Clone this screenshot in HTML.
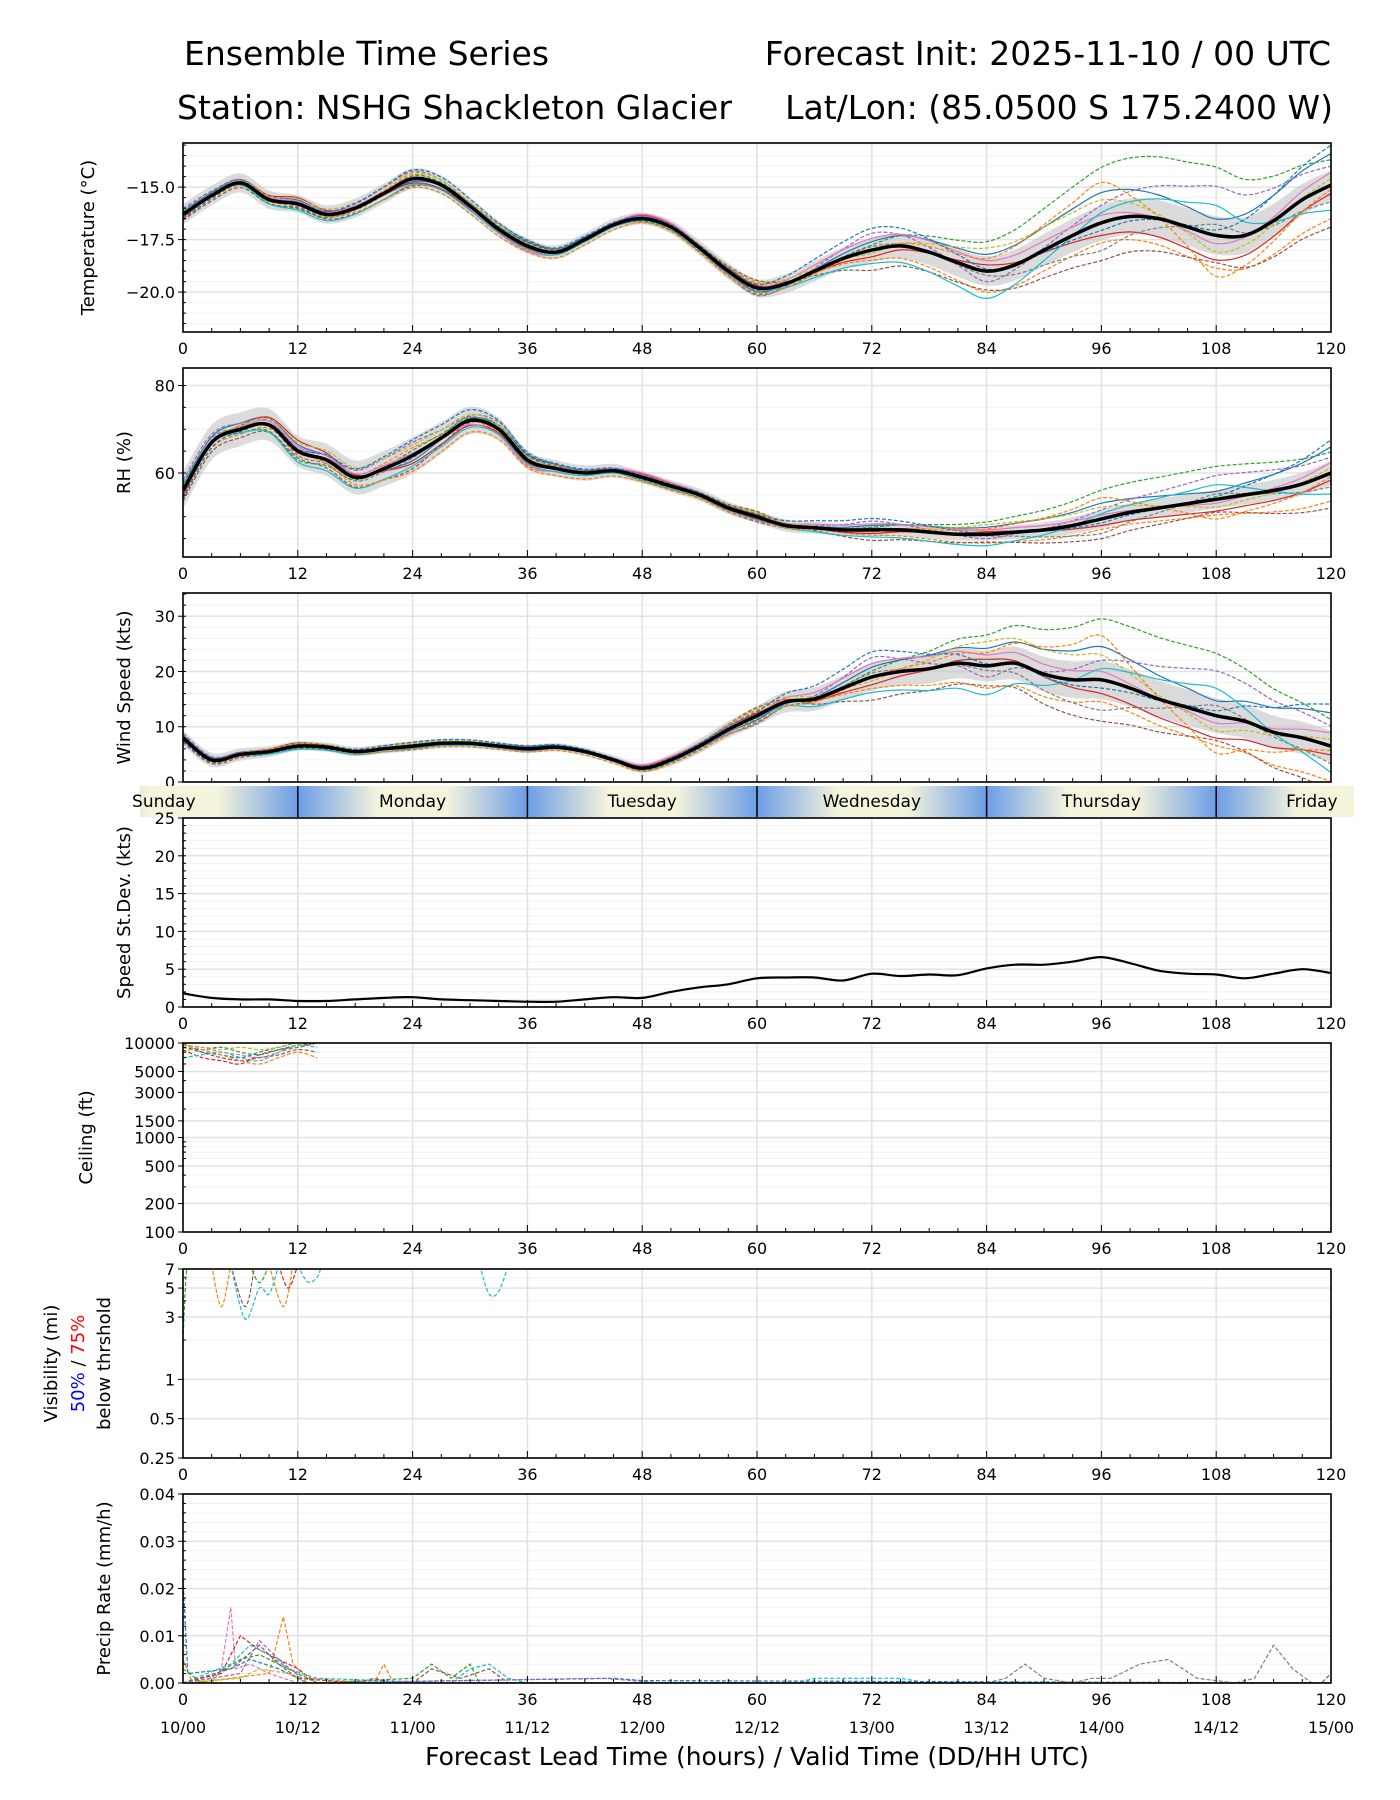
<!DOCTYPE html>
<html><head><meta charset="utf-8"><style>
html,body{margin:0;padding:0;background:#fff;}
svg{display:block;font-family:"DejaVu Sans","Liberation Sans",sans-serif;}
</style></head><body>
<svg id="chart" width="1400" height="1800" viewBox="0 0 1400 1800" xmlns="http://www.w3.org/2000/svg">
<text x="184" y="65" font-size="33">Ensemble Time Series</text>
<text x="1331" y="65" font-size="33" text-anchor="end">Forecast Init: 2025-11-10 / 00 UTC</text>
<text x="177" y="119" font-size="33">Station: NSHG Shackleton Glacier</text>
<text x="1333" y="119" font-size="33" text-anchor="end">Lat/Lon: (85.0500 S 175.2400 W)</text>
<text x="757" y="1765" font-size="25" text-anchor="middle">Forecast Lead Time (hours) / Valid Time (DD/HH UTC)</text>
</svg>
<script>
// ---- data ----
const hours3 = [0,3,6,9,12,15,18,21,24,27,30,33,36,39,42,45,48,51,54,57,60,63,66,69,72,75,78,81,84,87,90,93,96,99,102,105,108,111,114,117,120];
const tempMean = [-16.3,-15.4,-14.8,-15.6,-15.8,-16.3,-16.0,-15.3,-14.6,-14.9,-15.9,-17.0,-17.8,-18.1,-17.5,-16.8,-16.5,-16.9,-17.9,-19.0,-19.8,-19.6,-19.0,-18.4,-18.0,-17.8,-18.1,-18.6,-19.0,-18.7,-18.0,-17.3,-16.7,-16.4,-16.5,-16.9,-17.3,-17.3,-16.6,-15.6,-14.9];
const rhMean = [56,67,70,71,65,63,59,61,64,68,72,70,63,61,60,60.5,59,57,55,52,50,48,47.5,47,47,47,46.5,46,46,46.5,47,48,49.5,51,52,53,54,55,56,57.5,60];
const windMean = [8,4,5,5.5,6.5,6.3,5.5,6,6.5,7,7,6.5,6,6.3,5.5,4,2.5,4,6.5,9.5,12,14.5,15,17,19,20,20.5,21.5,21,21.5,19.5,18.5,18.5,17,15,13.5,12,11,9,8,6.5];
const sdMean = [1.8,1.2,1.0,1.0,0.8,0.8,1.0,1.2,1.3,1.0,0.9,0.8,0.7,0.7,1.0,1.3,1.2,2.0,2.6,3.0,3.8,3.9,3.9,3.5,4.4,4.1,4.3,4.2,5.1,5.6,5.6,6.0,6.6,5.8,4.8,4.4,4.3,3.8,4.4,5.0,4.5];
const hours12 = [0,12,24,36,48,60,72,84,96,108,120];
const tempSpread = [0.7,0.6,0.7,0.5,0.4,0.6,0.8,1.0,1.2,1.3,1.0];
const rhSpread = [6,5,6,3,2,2,2,2,3,3,4];
const windSpread = [2,1.2,1.2,1,1.2,2.5,3.5,4,5,4.5,4];
const memberDev = [
 [0.2,0.3,-0.2,0.4,0.1,-0.3,0.5,0.8,1.2,0.6,1.5],
 [-0.3,-0.1,0.3,-0.4,0.2,0.4,-0.6,-1.0,-0.8,-1.2,-1.6],
 [0.1,-0.4,0.2,0.1,-0.3,-0.5,0.3,1.4,2.2,2.5,1.2],
 [-0.2,0.5,-0.3,-0.2,0.4,0.2,-0.4,0.3,-0.5,-0.9,-0.4],
 [0.4,0.1,0.5,-0.1,0.3,-0.6,1.0,-0.5,0.7,1.8,0.9],
 [-0.4,-0.3,-0.5,0.3,-0.1,0.6,-1.2,-0.9,-1.5,-1.0,-2.0],
 [0.0,0.2,0.1,-0.5,0.5,0.1,0.7,0.5,0.3,-0.3,0.6],
 [0.3,-0.2,-0.1,0.6,-0.4,-0.2,0.2,-0.2,-1.1,0.4,-0.8],
 [-0.1,0.4,0.4,0.2,0.0,0.5,-0.2,1.1,0.9,-0.6,0.3],
 [0.2,-0.5,-0.4,-0.3,-0.2,-0.1,-0.8,-1.3,0.4,1.1,-1.2],
 [-0.3,0.1,0.6,0.5,0.2,0.3,1.3,0.1,-0.3,0.2,1.9],
 [0.1,0.0,-0.6,-0.6,-0.5,-0.4,0.0,0.6,1.6,-1.5,-0.2]
];
const ceilHours = [0,2,4,6,8,10,12,14];
const ceilMembers = [
 [9000,8000,7500,7000,8000,9000,10000,10000],[8500,7000,6500,6000,7500,8500,9500,10000],
 [9500,9000,8000,7500,7000,8000,9000,10000],[7000,7500,8000,7000,6500,8000,9500,9000],
 [9000,8500,9000,8000,7500,8500,9000,10000],[10000,8000,7000,6500,7000,7500,8500,8000],
 [8000,9000,8500,9000,8500,9000,10000,10000],[9500,8500,7500,6500,6000,7000,8000,7000]
];
const visMembers = [
 [[0,2],[0.4,7],[1,7.5]],
 [[3,7.5],[4,3.6],[5,7.5]],
 [[5,7.5],[6.5,3.6],[7.5,7.5]],
 [[5,7.5],[6.5,2.9],[8,5],[9,4.5],[10,7.5]],
 [[9,7.5],[10.5,3.6],[11.5,7.5]],
 [[10,7.5],[11,5],[12,7.5]],
 [[12,7.5],[13,5.6],[14,6],[14.5,7.5]],
 [[31,7.5],[32,4.5],[33,4.7],[34,7.5]],
 [[7,7.5],[8,5.5],[9,7.5]]
];
const visColors = ['#2ca02c','#ff7f0e','#8c564b','#17becf','#ff7f0e','#d62728','#17becf','#17becf','#2ca02c'];
const precipMembers = [
 [[0,0],[3,0],[4,0.003],[5,0.016],[5.5,0.003],[7,0.004],[9,0.002],[12,0],[120,0]],
 [[0,0.005],[1,0],[9,0.002],[10.5,0.014],[11.5,0.004],[13,0.001],[20,0],[21,0.004],[22,0],[120,0]],
 [[0,0],[4,0.002],[6,0.01],[8,0.007],[10,0.005],[12,0.003],[14,0],[120,0]],
 [[0,0],[5,0.004],[7,0.008],[9,0.006],[11,0.003],[14,0.001],[28,0],[30,0.003],[32,0.004],[34,0.001],[36,0],[64,0],[66,0.001],[75,0.001],[78,0],[120,0]],
 [[0,0.003],[2,0],[6,0.005],[8,0.006],[12,0.002],[14,0],[24,0.001],[26,0.004],[28,0.001],[30,0.004],[31,0],[120,0]],
 [[0,0.022],[0.5,0.002],[5,0.003],[7,0.005],[10,0.003],[13,0],[45,0.001],[48,0.0005],[120,0]],
 [[0,0],[84,0],[86,0.001],[88,0.004],[90,0.001],[93,0],[95,0.001],[97,0.001],[100,0.004],[103,0.005],[106,0.001],[110,0],[112,0.001],[114,0.008],[116,0.003],[118,0],[120,0]],
 [[0,0],[5,0.003],[8,0.008],[10,0.004],[12,0.001],[18,0],[20,0.001],[22,0],[24,0],[26,0.003],[29,0.001],[32,0.003],[34,0],[119,0],[120,0.002]],
 [[0,0],[6,0.002],[8,0.009],[10,0.005],[13,0],[44,0.001],[50,0],[120,0]],
 [[0,0],[6,0.001],[8,0.003],[11,0.002],[13,0],[120,0]]
];
const precipColors = ['#e377c2','#ff7f0e','#d62728','#17becf','#2ca02c','#1f77b4','#7f7f7f','#8c564b','#9467bd','#bcbd22'];
const xTicks = [0,12,24,36,48,60,72,84,96,108,120];
const dateLabels = ['10/00','10/12','11/00','11/12','12/00','12/12','13/00','13/12','14/00','14/12','15/00'];
const dayNames = ['Sunday','Monday','Tuesday','Wednesday','Thursday','Friday'];
const dayCenters = [-2,24,48,72,96,118];
const colors = ['#1f77b4','#ff7f0e','#2ca02c','#d62728','#9467bd','#8c564b','#e377c2','#7f7f7f','#bcbd22','#17becf'];

// ---- layout ----
const svg = document.getElementById('chart');
const NS = 'http://www.w3.org/2000/svg';
const X0 = 183, X1 = 1331, PH = 189;
function xs(h){ return X0 + h/120*(X1-X0); }
function el(tag, attrs, parent){
  const e = document.createElementNS(NS, tag);
  for (const k in attrs) e.setAttribute(k, attrs[k]);
  (parent||svg).appendChild(e);
  return e;
}
function crPath(pts){
  let d = 'M' + pts[0][0].toFixed(1) + ',' + pts[0][1].toFixed(1);
  for (let i=0;i<pts.length-1;i++){
    const p0=pts[Math.max(0,i-1)], p1=pts[i], p2=pts[i+1], p3=pts[Math.min(pts.length-1,i+2)];
    const c1x=p1[0]+(p2[0]-p0[0])/6, c1y=p1[1]+(p2[1]-p0[1])/6;
    const c2x=p2[0]-(p3[0]-p1[0])/6, c2y=p2[1]-(p3[1]-p1[1])/6;
    d += 'C'+c1x.toFixed(1)+','+c1y.toFixed(1)+' '+c2x.toFixed(1)+','+c2y.toFixed(1)+' '+p2[0].toFixed(1)+','+p2[1].toFixed(1);
  }
  return d;
}
function interp12(arr, h){
  const i = Math.min(9, Math.floor(h/12)); const f = (h - i*12)/12;
  return arr[i]*(1-f) + arr[i+1]*f;
}
let clipId = 0;
function panel(name, top, ys, yTicks, yLabels, minorTicks, ylabel, ylabelX){
  const g = el('g', {});
  
  
  const bottom = top + PH;
  minorTicks.forEach(v => {
    const y = ys(v);
    const l = el('line', {x1:X0, x2:X1, y1:y, y2:y, stroke:'#f2f2f2', 'stroke-width':1}, g);
    
    
  });
  yTicks.forEach(v => {
    const y = ys(v);
    const l = el('line', {x1:X0, x2:X1, y1:y, y2:y, stroke:'#e2e2e2', 'stroke-width':1.5}, g);
    
    
  });
  xTicks.forEach(h => {
    const l = el('line', {x1:xs(h), x2:xs(h), y1:top, y2:bottom, stroke:'#e2e2e2', 'stroke-width':1.5}, g);
    
    
  });
  clipId++;
  const cp = el('clipPath', {id:'cp'+clipId}, g);
  el('rect', {x:X0, y:top, width:X1-X0, height:PH}, cp);
  const data = el('g', {'clip-path':'url(#cp'+clipId+')'}, g);
  
  
  const axes = el('g', {}, g);
  const fr = el('rect', {x:X0, y:top, width:X1-X0, height:PH, fill:'none', stroke:'#000', 'stroke-width':1.6}, axes);
  
  
  for (let h=0; h<=120; h+=3){
    const major = h%12===0;
    el('line', {x1:xs(h), x2:xs(h), y1:bottom, y2:bottom-(major?7:4), stroke:'#000', 'stroke-width':1}, axes);
  }
  xTicks.forEach(h => {
    const t = el('text', {x:xs(h), y:bottom+22, 'font-size':16, 'text-anchor':'middle'}, axes);
    t.textContent = h;
    
    
  });
  minorTicks.forEach(v => el('line', {x1:X0, x2:X0+3, y1:ys(v), y2:ys(v), stroke:'#000', 'stroke-width':1}, axes));
  yTicks.forEach((v,i) => {
    el('line', {x1:X0-5, x2:X0+1, y1:ys(v), y2:ys(v), stroke:'#000', 'stroke-width':1}, axes);
    const t = el('text', {x:X0-8, y:ys(v)+6, 'font-size':16, 'text-anchor':'end'}, axes);
    t.textContent = yLabels[i];
    
    
  });
  if (ylabel){
    const cy = top + PH/2;
    const t = el('text', {x:ylabelX, y:cy, 'font-size':18, 'text-anchor':'middle', transform:'rotate(-90 '+ylabelX+' '+cy+')'}, axes);
    t.textContent = ylabel;
    
    
  }
  return {g:data, axes:axes};
}
function ensemble(p, name, ys, mean, spread, bandFrac){
  const up = hours3.map((h,i)=>[xs(h), ys(mean[i]+interp12(spread,h)*bandFrac)]);
  const lo = hours3.map((h,i)=>[xs(h), ys(mean[i]-interp12(spread,h)*bandFrac)]).reverse();
  const band = el('path', {d: crPath(up) + crPath(lo).replace('M','L') + 'Z', fill:'#c8c8c8', opacity:0.65}, p.g);
  
  
  memberDev.forEach((dev, m) => {
    const pts = hours3.map((h,i)=>[xs(h), ys(mean[i] + interp12(dev,h)*interp12(spread,h))]);
    const path = el('path', {d: crPath(pts), fill:'none', stroke: colors[m%10], 'stroke-width':1.2, 'stroke-dasharray': m%3===0 ? 'none' : '4,2'}, p.g);
    
    
  });
  const mp = el('path', {d: crPath(hours3.map((h,i)=>[xs(h), ys(mean[i])])), fill:'none', stroke:'#000', 'stroke-width':3.5}, p.g);
  
  
}
function lin(top, vmin, vmax){ return v => top + PH - (v-vmin)/(vmax-vmin)*PH; }
function range(a,b,s){ const r=[]; for(let v=a; v<=b+1e-9; v+=s) r.push(+v.toFixed(4)); return r; }

const tTop = 143, tys = lin(tTop, -21.9, -12.9);
const pT = panel('temperature', tTop, tys, [-15,-17.5,-20], ['−15.0','−17.5','−20.0'], range(-21.5,-13,0.5), 'Temperature (°C)', 94);
ensemble(pT, 'temperature', tys, tempMean, tempSpread, 0.7);

const rTop = 368, rys = lin(rTop, 40.8, 84);
const pR = panel('rh', rTop, rys, [60,80], ['60','80'], range(45,80,5), 'RH (%)', 130);
ensemble(pR, 'rh', rys, rhMean, rhSpread, 0.7);

const wTop = 593, wys = lin(wTop, 0, 34.2);
const pW = panel('wind', wTop, wys, [0,10,20,30], ['0','10','20','30'], range(0,34,2), 'Wind Speed (kts)', 130);
ensemble(pW, 'wind', wys, windMean, windSpread, 0.7);

const defs = el('defs', {});
const grad = el('linearGradient', {id:'dayGrad', x1:0, x2:1, y1:0, y2:0}, defs);
el('stop', {offset:'0', 'stop-color':'#6d9de6'}, grad);
el('stop', {offset:'0.35', 'stop-color':'#f4f4dc'}, grad);
el('stop', {offset:'0.65', 'stop-color':'#f4f4dc'}, grad);
el('stop', {offset:'1', 'stop-color':'#6d9de6'}, grad);
const bandG = el('g', {});


const dayStarts = [-12,12,36,60,84,108];
dayStarts.forEach((s) => {
  const r = el('rect', {x: xs(s), y:786, width: xs(s+24)-xs(s), height:31, fill:'url(#dayGrad)'}, bandG);
  
  
});
el('rect', {x:0, y:785, width:140, height:33, fill:'#fff'}, bandG);
el('rect', {x:1354, y:785, width:46, height:33, fill:'#fff'}, bandG);
[12,36,60,84,108].forEach(h => el('line', {x1:xs(h), x2:xs(h), y1:786, y2:817, stroke:'#000', 'stroke-width':1.5}, bandG));
dayNames.forEach((d,i) => {
  const t = el('text', {x: xs(dayCenters[i]), y:807, 'font-size':17, 'text-anchor':'middle'}, bandG);
  t.textContent = d;
  
  
});

const sTop = 818, sys = lin(sTop, 0, 25);
const pS = panel('stdev', sTop, sys, [0,5,10,15,20,25], ['0','5','10','15','20','25'], range(0,25,1), 'Speed St.Dev. (kts)', 130);
const sdp = el('path', {d: crPath(hours3.map((h,i)=>[xs(h), sys(sdMean[i])])), fill:'none', stroke:'#000', 'stroke-width':2.2}, pS.g);



const cTop = 1043;
function cys(v){ return cTop + PH - (Math.log10(v)-2)/2*PH; }
const pC = panel('ceiling', cTop, cys, [100,200,500,1000,1500,3000,5000,10000], ['100','200','500','1000','1500','3000','5000','10000'], [300,400,600,700,800,900,2000,4000,6000,7000,8000,9000], 'Ceiling (ft)', 92);
ceilMembers.forEach((arr,m) => {
  const pts = ceilHours.map((h,i)=>[xs(h), cys(arr[i])]);
  const p = el('path', {d: crPath(pts), fill:'none', stroke: colors[(m*3)%10], 'stroke-width':1.2, 'stroke-dasharray':'4,2'}, pC.g);
  
  
});

const vTop = 1269;
function vys(v){ return vTop + PH - (Math.log10(v)-Math.log10(0.25))/(Math.log10(7)-Math.log10(0.25))*PH; }
const pV = panel('visibility', vTop, vys, [0.25,0.5,1,3,5,7], ['0.25','0.5','1','3','5','7'], [2,4,6], null, 0);
visMembers.forEach((arr,m) => {
  const pts = arr.map(p=>[xs(p[0]), vys(p[1])]);
  const p = el('path', {d: crPath(pts), fill:'none', stroke: visColors[m], 'stroke-width':1.2, 'stroke-dasharray':'4,2'}, pV.g);
  
  
});
const vcy = vTop + PH/2;
const vt1 = el('text', {x:57, y:vcy, 'font-size':18, 'text-anchor':'middle', transform:'rotate(-90 57 '+vcy+')'}, pV.axes);
vt1.textContent = 'Visibility (mi)';


const vt2 = el('text', {x:84, y:vcy, 'font-size':18, 'text-anchor':'middle', transform:'rotate(-90 84 '+vcy+')'}, pV.axes);
vt2.innerHTML = '<tspan fill="#0000ff">50%</tspan> / <tspan fill="#ff0000">75%</tspan>';


const vt3 = el('text', {x:110, y:vcy, 'font-size':18, 'text-anchor':'middle', transform:'rotate(-90 110 '+vcy+')'}, pV.axes);
vt3.textContent = 'below thrshold';



const pTop = 1494, pys = lin(pTop, 0, 0.04);
const pP = panel('precip', pTop, pys, [0,0.01,0.02,0.03,0.04], ['0.00','0.01','0.02','0.03','0.04'], range(0,0.04,0.002), 'Precip Rate (mm/h)', 110);
precipMembers.forEach((arr,m) => {
  const pts = arr.map(p=>[xs(p[0]), pys(p[1])]);
  let d = 'M' + pts.map(p=>p[0].toFixed(1)+','+p[1].toFixed(1)).join('L');
  const p = el('path', {d: d, fill:'none', stroke: precipColors[m], 'stroke-width':1.2, 'stroke-dasharray':'4,2'}, pP.g);
  
  
});
xTicks.forEach((h,i) => {
  const t = el('text', {x:xs(h), y:1733, 'font-size':16, 'text-anchor':'middle'}, pP.axes);
  t.textContent = dateLabels[i];
  
  
});
</script>
</body></html>
